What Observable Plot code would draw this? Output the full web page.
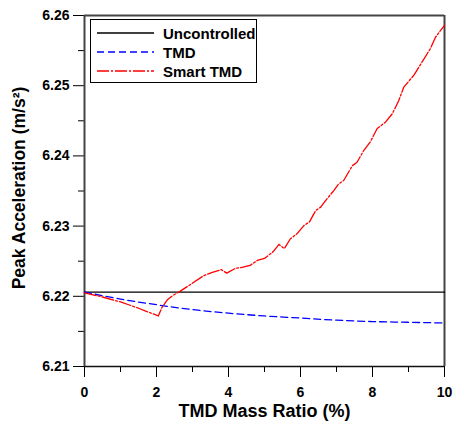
<!DOCTYPE html>
<html><head><meta charset="utf-8">
<script src="https://cdn.jsdelivr.net/npm/d3@7"></script>
<script src="https://cdn.jsdelivr.net/npm/@observablehq/plot@0.6"></script>
<style>
body{margin:0;background:#fff;font-family:"Liberation Sans",Arial,sans-serif}
#wrap{position:relative;width:454px;height:422px}
#legend{position:absolute;left:90px;top:19px;width:165px;height:62px;border:1.3px solid #000;background:#fff;font-weight:bold;font-size:15px}
.row{position:absolute;left:0;height:18px;display:flex;align-items:center}
.row svg{margin-left:6px;margin-right:9px}
</style>
</head><body><div id="wrap"><div id="legend"></div></div>
<script>
const seriesNames = ["Uncontrolled", "TMD", "Smart TMD"];
const seriesColors = ["#000000", "#0000ff", "#ff0000"];
const seriesDash = [null, "7,4", "12,2,2,2"];

const uncontrolledRatio = [0, 10];
const uncontrolledAccel = [6.2206, 6.2206];

const tmdRatio = [0, 1, 2, 3, 4, 5, 6, 7, 8, 9, 10];
const tmdAccel = [6.2206, 6.2196, 6.2188, 6.2181, 6.2176, 6.2172, 6.2169, 6.2166, 6.2164, 6.2163, 6.2162];

const smartRatio = [0, 0.5, 1.0, 1.5, 1.85, 2.05, 2.15, 2.3, 2.45, 2.65, 2.95, 3.3, 3.55, 3.8, 3.95, 4.2, 4.35, 4.6, 4.8, 5.0, 5.25, 5.4, 5.55, 5.72, 5.9, 6.1, 6.25, 6.42, 6.56, 6.74, 6.93, 7.06, 7.2, 7.44, 7.57, 7.76, 7.94, 8.13, 8.36, 8.55, 8.73, 8.87, 9.15, 9.38, 9.61, 9.75, 10.0];
const smartAccel = [6.2205, 6.2199, 6.2192, 6.2183, 6.2176, 6.2172, 6.2184, 6.2195, 6.2201, 6.2207, 6.2217, 6.2229, 6.2234, 6.2238, 6.2233, 6.2240, 6.2241, 6.2244, 6.2251, 6.2254, 6.2264, 6.2274, 6.2268, 6.2282, 6.2289, 6.2301, 6.2306, 6.2322, 6.2327, 6.2339, 6.2351, 6.2360, 6.2365, 6.2386, 6.2391, 6.2408, 6.2420, 6.2439, 6.2448, 6.2460, 6.2479, 6.2498, 6.2515, 6.2534, 6.2553, 6.2569, 6.2586];

const xMajorTicks = [0, 2, 4, 6, 8, 10];
const xMinorTicks = [1, 3, 5, 7, 9];
const yMajorTicks = [6.21, 6.22, 6.23, 6.24, 6.25, 6.26];
const yMinorTicks = [6.215, 6.225, 6.235, 6.245, 6.255];
const xTitle = "TMD Mass Ratio (%)";
const yTitle = "Peak Acceleration (m/s\u00B2)";

const toRows = (xs, ys) => xs.map((x, i) => ({x, y: ys[i]}));
const unc = toRows(uncontrolledRatio, uncontrolledAccel);
const tmd = toRows(tmdRatio, tmdAccel);
const smart = toRows(smartRatio, smartAccel);

const frameColor = "#444";

const chart = Plot.plot({
  width: 454,
  height: 422,
  marginLeft: 84,
  marginRight: 10,
  marginTop: 15,
  marginBottom: 56,
  style: {fontFamily: "'Liberation Sans', Arial, sans-serif", fontSize: "14px", fontWeight: "bold", color: "#000", background: "#fff"},
  x: {domain: [0, 10]},
  y: {domain: [6.21, 6.26]},
  marks: [
    Plot.axisX({ticks: xMajorTicks, tickSize: 11, tickPadding: 10, tickFormat: d => String(d), label: null, fontSize: 14, fontWeight: "bold", stroke: "#000"}),
    Plot.axisX({ticks: xMinorTicks, tickSize: 6, text: null, label: null, stroke: "#000"}),
    Plot.axisY({ticks: yMajorTicks, tickSize: 11, tickPadding: 4, tickFormat: d => d.toFixed(2), label: null, fontSize: 14, fontWeight: "bold", stroke: "#000"}),
    Plot.axisY({ticks: yMinorTicks, tickSize: 6, text: null, label: null, stroke: "#000"}),
    Plot.ruleY([6.21], {stroke: "#111", strokeWidth: 1.5}),
    Plot.ruleY([6.26], {stroke: frameColor, strokeWidth: 2}),
    Plot.ruleX([0], {stroke: frameColor, strokeWidth: 2}),
    Plot.ruleX([10], {stroke: frameColor, strokeWidth: 2}),
    Plot.line(unc, {x: "x", y: "y", stroke: seriesColors[0], strokeWidth: 1.3}),
    Plot.line(tmd, {x: "x", y: "y", stroke: seriesColors[1], strokeWidth: 1.3, strokeDasharray: seriesDash[1], curve: "catmull-rom"}),
    Plot.line(smart, {x: "x", y: "y", stroke: seriesColors[2], strokeWidth: 1.3, strokeDasharray: seriesDash[2]}),
    Plot.text([xTitle], {frameAnchor: "bottom", dy: 45, textAnchor: "middle", lineAnchor: "middle", fontSize: 18, fontWeight: "bold", fill: "#000"}),
    Plot.text([yTitle], {frameAnchor: "left", dx: -65, dy: -3, rotate: -90, textAnchor: "middle", lineAnchor: "middle", fontSize: 17.5, fontWeight: "bold", fill: "#000"})
  ]
});
document.getElementById("wrap").prepend(chart);

const legend = document.getElementById("legend");
const rowTops = [4, 23, 42];
seriesNames.forEach((name, i) => {
  const row = document.createElement("div");
  row.className = "row";
  row.style.top = rowTops[i] + "px";
  const dash = seriesDash[i] ? ` stroke-dasharray="${seriesDash[i]}"` : "";
  row.innerHTML = `<svg width="57" height="4"><line x1="0" y1="2" x2="57" y2="2" stroke="${seriesColors[i]}" stroke-width="1.3"${dash}/></svg><span>${name}</span>`;
  legend.appendChild(row);
});
</script>
</body></html>
